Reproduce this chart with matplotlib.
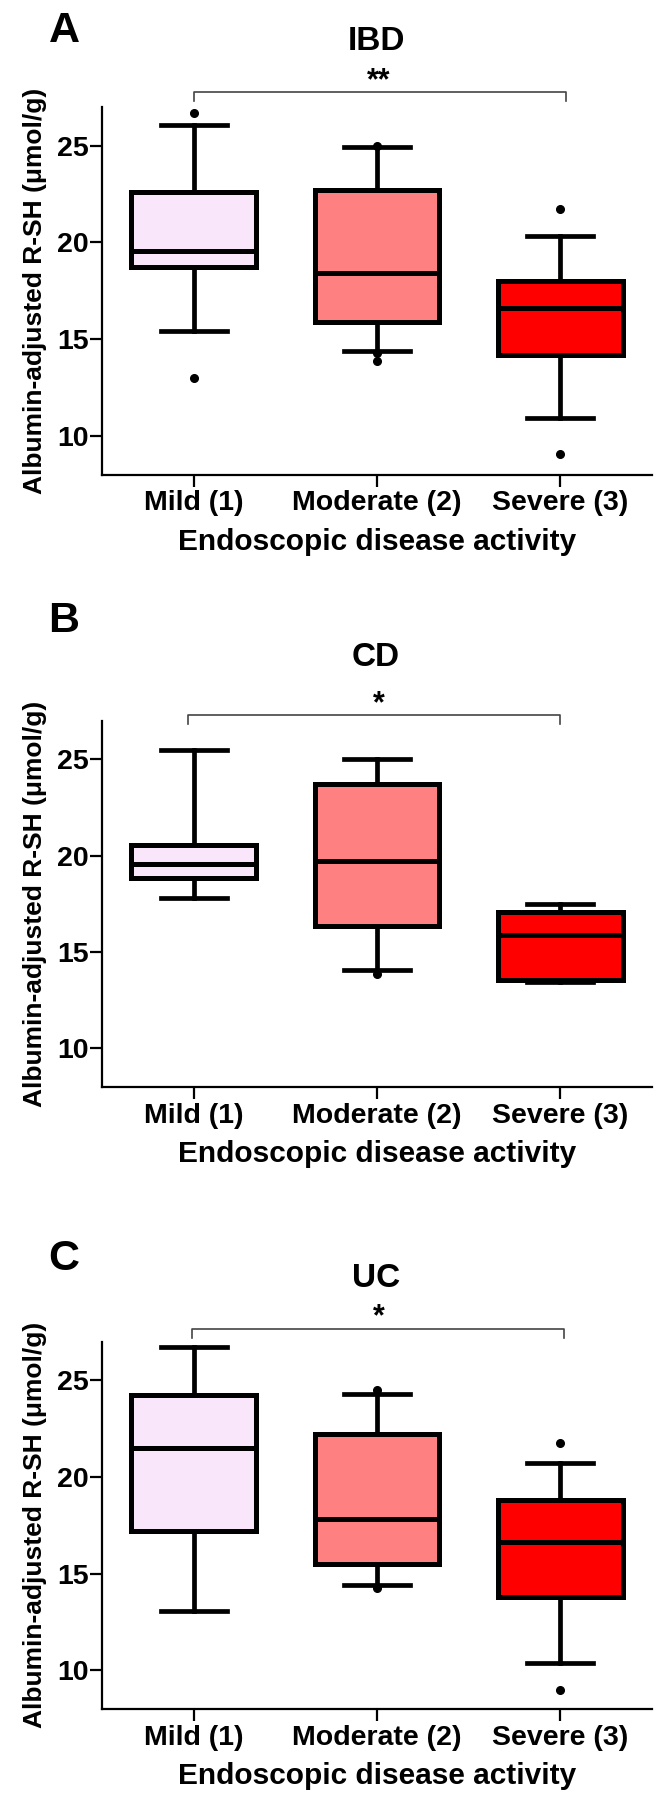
import matplotlib
matplotlib.use('Agg')
from matplotlib import pyplot as plt

plt.rcParams['font.family'] = ['Liberation Sans', 'DejaVu Sans']
plt.rcParams['font.weight'] = 'bold'
plt.rcParams['axes.labelweight'] = 'bold'

groups = ['Mild (1)', 'Moderate (2)', 'Severe (3)']
box_colors = ['#FAE6FA', '#FF8080', '#FF0000']

# IBD
ibd_whislo = [15.4, 14.4, 10.9]
ibd_q1 = [18.7, 15.9, 14.2]
ibd_med = [19.55, 18.4, 16.6]
ibd_q3 = [22.6, 22.7, 18.0]
ibd_whishi = [26.05, 24.9, 20.3]
ibd_fliers = [[26.7, 13.0], [25.0, 14.3, 13.85], [21.7, 9.05]]

# CD
cd_whislo = [17.8, 14.05, 13.45]
cd_q1 = [18.85, 16.35, 13.55]
cd_med = [19.55, 19.7, 15.9]
cd_q3 = [20.55, 23.7, 17.05]
cd_whishi = [25.45, 25.0, 17.5]
cd_fliers = [[], [13.85], []]

# UC
uc_whislo = [13.05, 14.4, 10.4]
uc_q1 = [17.2, 15.5, 13.8]
uc_med = [21.5, 17.85, 16.65]
uc_q3 = [24.25, 22.2, 18.8]
uc_whishi = [26.75, 24.3, 20.75]
uc_fliers = [[], [24.5, 14.25], [21.75, 9.0]]

# significance brackets (x from, x to, top, drop)
sig_labels = ['**', '*', '*']
sig_x = [[1.0, 3.03], [0.97, 3.0], [0.99, 3.02]]
sig_y = [27.77, 27.31, 27.67]
sig_drop = [0.47, 0.5, 0.47]

titles = ['IBD', 'CD', 'UC']
letters = ['A', 'B', 'C']

W, H = 663, 1814
fig = plt.figure(figsize=(W / 100, H / 100), dpi=100)

# axes boxes in pixels: (top, bottom)
ax_px = [(106.8, 474.5), (720.6, 1086.8), (1341.7, 1709.0)]
title_px = [41.5, 657.4, 1278.3]
letter_px = [31, 621, 1259.5]
star_px = [89, 712, 1325]

data = [
    (ibd_whislo, ibd_q1, ibd_med, ibd_q3, ibd_whishi, ibd_fliers),
    (cd_whislo, cd_q1, cd_med, cd_q3, cd_whishi, cd_fliers),
    (uc_whislo, uc_q1, uc_med, uc_q3, uc_whishi, uc_fliers),
]

for i, (wlo, q1, med, q3, whi, fl) in enumerate(data):
    top, bot = ax_px[i]
    ax = fig.add_axes([102 / W, 1 - bot / H, 550 / W, (bot - top) / H])

    stats = []
    for j in range(3):
        stats.append(dict(med=med[j], q1=q1[j], q3=q3[j],
                          whislo=wlo[j], whishi=whi[j], fliers=fl[j]))

    bp = ax.bxp(stats, positions=[1, 2, 3], widths=0.68, capwidths=0.36,
                patch_artist=True,
                boxprops=dict(linewidth=3.6, edgecolor='black'),
                medianprops=dict(linewidth=3.6, color='black'),
                whiskerprops=dict(linewidth=3.4, color='black'),
                capprops=dict(linewidth=3.4, color='black'),
                flierprops=dict(marker='o', markersize=5.5,
                                markerfacecolor='black', markeredgecolor='black'))
    for patch, c in zip(bp['boxes'], box_colors):
        patch.set_facecolor(c)

    ax.set_xlim(0.5, 3.5)
    ax.set_ylim(8, 27)
    ax.set_yticks([10, 15, 20, 25])
    ax.set_xticks([1, 2, 3])
    ax.set_xticklabels(groups)
    ax.spines['top'].set_visible(False)
    ax.spines['right'].set_visible(False)
    ax.spines['left'].set_linewidth(1.6)
    ax.spines['bottom'].set_linewidth(1.6)
    ax.tick_params(axis='both', length=8.5, width=1.6, labelsize=20.5)
    ax.tick_params(axis='y', pad=1)
    ax.tick_params(axis='x', pad=3)
    ax.set_xlabel('Endoscopic disease activity', fontsize=21.5,
                  fontweight='bold', labelpad=8)
    ax.set_ylabel('Albumin-adjusted R-SH (μmol/g)', fontsize=19,
                  fontweight='bold', labelpad=7)

    # significance bracket
    x1, x2 = sig_x[i]
    y, d = sig_y[i], sig_drop[i]
    ax.plot([x1, x1, x2, x2], [y - d, y, y, y - d], color='#444444',
            linewidth=1.2, clip_on=False)
    fig.text(379 / W, 1 - star_px[i] / H, sig_labels[i],
             ha='center', va='baseline', fontsize=22, fontweight='bold')

    fig.text(376 / W, 1 - title_px[i] / H, titles[i], ha='center', va='center',
             fontsize=24, fontweight='bold')
    fig.text(64 / W, 1 - letter_px[i] / H, letters[i], ha='center', va='center',
             fontsize=31, fontweight='bold')

fig.savefig('out.png', dpi=100)
